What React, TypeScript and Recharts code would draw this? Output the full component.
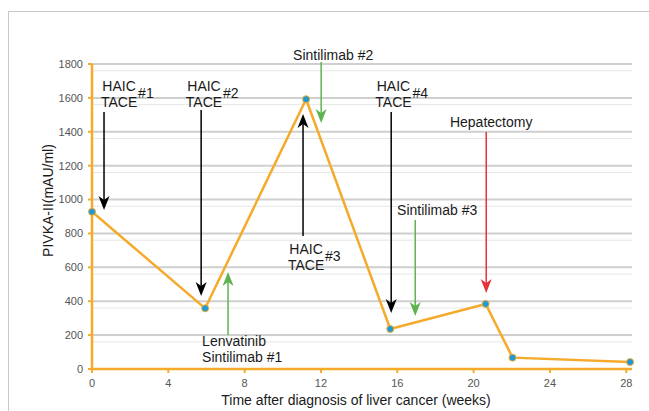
import React from "react";
import { LineChart, Line, XAxis, YAxis, CartesianGrid, ReferenceLine, ReferenceDot, Label } from "recharts";

// PIVKA-II readings (weeks after diagnosis)
const weeks = [0, 5.93, 11.22, 15.63, 20.63, 22.04, 28.2];
const pivka = [928, 358, 1592, 236, 384, 67, 41];

const xTicks = [0, 4, 8, 12, 16, 20, 24, 28];
const yTicks = [0, 200, 400, 600, 800, 1000, 1200, 1400, 1600, 1800];
const minorTicks = [
  40, 80, 120, 160, 240, 280, 320, 360, 440, 480, 520, 560, 640, 680, 720, 760,
  840, 880, 920, 960, 1040, 1080, 1120, 1160, 1240, 1280, 1320, 1360, 1440, 1480,
  1520, 1560, 1640, 1680, 1720, 1760,
];

// treatment arrows: x in weeks, from/to in PIVKA units
const arrows = [
  { week: 0.63, from: 1517, to: 938, kind: "haic" },
  { week: 5.72, from: 1529, to: 431, kind: "haic" },
  { week: 12.01, from: 1812, to: 1452, kind: "drug" },
  { week: 11.06, from: 785, to: 1505, kind: "haic" },
  { week: 15.68, from: 1517, to: 330, kind: "haic" },
  { week: 16.94, from: 879, to: 313, kind: "drug" },
  { week: 20.66, from: 1399, to: 449, kind: "surgery" },
  { week: 7.13, from: 201, to: 572, kind: "drug" },
];

const haicLabels = [
  { week: 1.42, value: 1641, num: "#1" },
  { week: 5.87, value: 1641, num: "#2" },
  { week: 11.22, value: 679, num: "#3" },
  { week: 15.8, value: 1641, num: "#4" },
];

const textLabels = [
  { text: "Sintilimab #2", week: 12.64, value: 1824, anchor: "middle" },
  { text: "Sintilimab #3", week: 18.09, value: 909, anchor: "middle" },
  { text: "Hepatectomy", week: 20.92, value: 1428, anchor: "middle" },
  { text: "Lenvatinib", week: 5.77, value: 133, anchor: "start" },
  { text: "Sintilimab #1", week: 5.77, value: 44, anchor: "start" },
];

const ORANGE = "#F5AA2B";
const kindColor: Record<string, string> = { haic: "#000000", drug: "#5DB44E", surgery: "#E5323B" };

const data = weeks.map((w, i) => ({ week: w, pivka: pivka[i] }));

function arrowShape(color: string) {
  return (p: any) => {
    const { x1, y1, x2, y2 } = p;
    const dir = y2 > y1 ? 1 : -1;
    const L = 14, W = 5.5, notch = 4;
    const baseY = y2 - dir * L;
    return (
      <g>
        <line x1={x1} y1={y1} x2={x2} y2={baseY + dir * notch} stroke={color} strokeWidth={1.5} />
        <path d={`M${x2},${y2} L${x2 - W},${baseY} L${x2},${baseY + dir * notch} L${x2 + W},${baseY} Z`} fill={color} />
      </g>
    );
  };
}

export default function App() {
  return (
    <div style={{ position: "absolute", left: 0, top: 0, width: 649, height: 411, overflow: "hidden", background: "#fff", fontFamily: "'Liberation Sans', Arial, sans-serif" }}>
      <div style={{ position: "absolute", left: 8, top: 11, width: 641, height: 400, borderTop: "1px solid #c8c8c8", borderLeft: "1px solid #c8c8c8" }} />
      <div style={{ position: "absolute", left: 0, top: 0 }}>
        <LineChart width={649} height={411} data={data} margin={{ top: 64, right: 17, bottom: 0, left: 30 }}>
          <CartesianGrid vertical={false} horizontalValues={minorTicks} stroke="#e6e6e6" strokeWidth={1} />
          <CartesianGrid vertical={false} horizontalValues={yTicks} stroke="#cfcfcf" strokeWidth={2} />
          <XAxis
            dataKey="week"
            type="number"
            domain={[0, 28.3]}
            ticks={xTicks}
            height={42}
            axisLine={{ stroke: ORANGE, strokeWidth: 2.5 }}
            tickLine={{ stroke: ORANGE, strokeWidth: 2 }}
            tickSize={4}
            tickMargin={6}
            tick={{ fill: "#555", fontSize: 11 }}
          >
            <Label
              content={(p: any) => {
                const vb = p.viewBox;
                return (
                  <text x={vb.x + vb.width / 2 - 6} y={vb.y + 36} textAnchor="middle" fontSize={14} fill="#1a1a1a">
                    Time after diagnosis of liver cancer (weeks)
                  </text>
                );
              }}
            />
          </XAxis>
          <YAxis
            type="number"
            domain={[0, 1800]}
            ticks={yTicks}
            width={62}
            axisLine={{ stroke: ORANGE, strokeWidth: 2.5 }}
            tickLine={{ stroke: ORANGE, strokeWidth: 2 }}
            tickSize={4}
            tickMargin={5}
            tick={{ fill: "#555", fontSize: 11 }}
          >
            <Label
              content={(p: any) => {
                const vb = p.viewBox;
                const x = vb.x + 18;
                const y = vb.y + vb.height / 2 - 16;
                return (
                  <text x={x} y={y} transform={`rotate(-90, ${x}, ${y})`} textAnchor="middle" dominantBaseline="central" fontSize={14} fill="#1a1a1a">
                    PIVKA-II(mAU/ml)
                  </text>
                );
              }}
            />
          </YAxis>
          {arrows.map((a, i) => (
            <ReferenceLine
              key={"a" + i}
              segment={[{ x: a.week, y: a.from }, { x: a.week, y: a.to }]}
              ifOverflow="visible"
              shape={arrowShape(kindColor[a.kind])}
            />
          ))}
          {haicLabels.map((h, i) => (
            <ReferenceDot
              key={"h" + i}
              x={h.week}
              y={h.value}
              r={0}
              ifOverflow="visible"
              shape={(p: any) => (
                <g fontSize={14} fill="#1a1a1a">
                  <text x={p.cx} y={p.cy} textAnchor="middle">HAIC</text>
                  <text x={p.cx} y={p.cy + 16.5} textAnchor="middle">TACE</text>
                  <text x={p.cx + 19} y={p.cy + 7}>{h.num}</text>
                </g>
              )}
            />
          ))}
          {textLabels.map((t, i) => (
            <ReferenceDot
              key={"t" + i}
              x={t.week}
              y={t.value}
              r={0}
              ifOverflow="visible"
              shape={(p: any) => (
                <text x={p.cx} y={p.cy} textAnchor={t.anchor as any} fontSize={14} fill="#1a1a1a">
                  {t.text}
                </text>
              )}
            />
          ))}
          <Line
            type="linear"
            dataKey="pivka"
            stroke={ORANGE}
            strokeWidth={2.5}
            dot={{ r: 3.5, fill: "#1C9AD6", stroke: ORANGE, strokeWidth: 1 }}
            isAnimationActive={false}
          />
        </LineChart>
      </div>
    </div>
  );
}
